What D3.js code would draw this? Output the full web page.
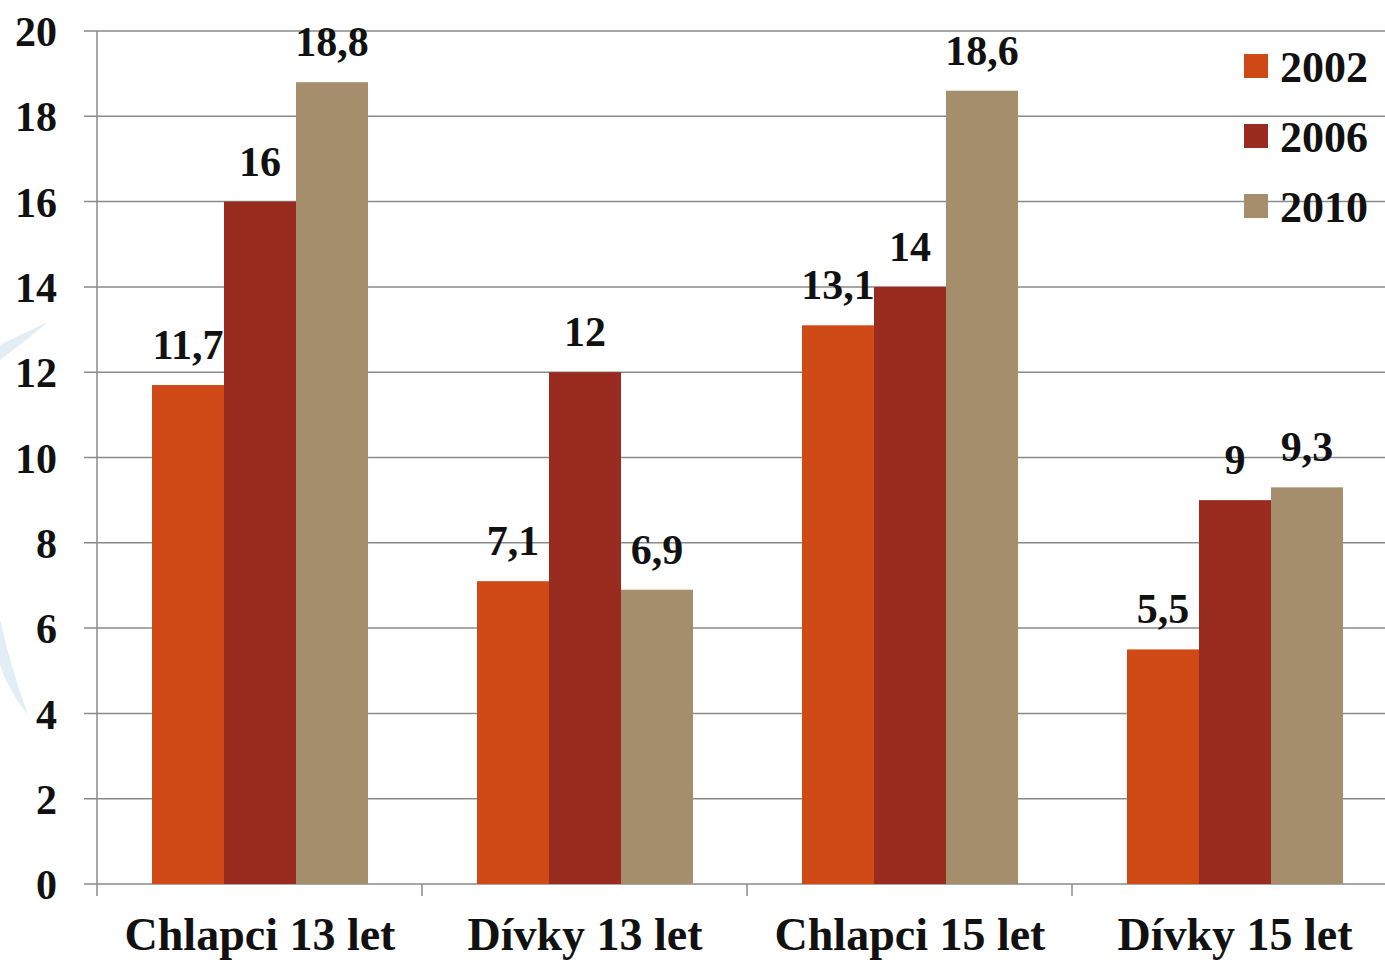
<!DOCTYPE html>
<html>
<head>
<meta charset="utf-8">
<script src="https://cdn.jsdelivr.net/npm/d3@7"></script>
<style>
  body { margin: 0; background: #fff; }
  text { font-family: "Liberation Serif", "DejaVu Serif", serif; font-weight: bold; fill: #111; }
</style>
</head>
<body>
<div id="chart"></div>
<script>
var categories = ["Chlapci 13 let", "Dívky 13 let", "Chlapci 15 let", "Dívky 15 let"];
var years = ["2002", "2006", "2010"];
var values2002 = [11.7, 7.1, 13.1, 5.5];
var values2006 = [16, 12, 14, 9];
var values2010 = [18.8, 6.9, 18.6, 9.3];
var yTicks = [0, 2, 4, 6, 8, 10, 12, 14, 16, 18, 20];
var colors = ["#D04A17", "#992B1F", "#A58E6B"];

var svgWidth = 1385;
var svgHeight = 963;

var svg = d3.select("#chart")
  .append("svg")
  .attr("width", svgWidth)
  .attr("height", svgHeight);

// faint watermark swoosh on the left
svg.append("path")
  .attr("d", "M0,345 Q20,335 48,322 Q20,345 0,360 Z")
  .attr("fill", "#e3edf5");
svg.append("path")
  .attr("d", "M0,620 Q10,665 28,715 Q8,690 0,665 Z")
  .attr("fill", "#e3edf5");

var x0 = d3.scaleBand()
  .domain(categories)
  .range([97, 1397]);

var x1 = d3.scaleBand()
  .domain(years)
  .range([55, 271]);

var y = d3.scaleLinear()
  .domain([0, 20])
  .range([884, 31]);

// gridlines
svg.append("g")
  .selectAll("line")
  .data(yTicks)
  .enter()
  .append("line")
  .attr("x1", 84)
  .attr("x2", svgWidth)
  .attr("y1", d => y(d))
  .attr("y2", d => y(d))
  .attr("stroke", "#8a8a8a")
  .attr("stroke-width", 1.5);

// y axis line
svg.append("line")
  .attr("x1", 97).attr("x2", 97)
  .attr("y1", y(20)).attr("y2", 896)
  .attr("stroke", "#8a8a8a")
  .attr("stroke-width", 1.5);

// category ticks
svg.append("g")
  .selectAll("line")
  .data(categories.slice(1))
  .enter()
  .append("line")
  .attr("x1", d => x0(d))
  .attr("x2", d => x0(d))
  .attr("y1", y(0))
  .attr("y2", 896)
  .attr("stroke", "#8a8a8a")
  .attr("stroke-width", 1.5);

// y tick labels
svg.append("g")
  .selectAll("text")
  .data(yTicks)
  .enter()
  .append("text")
  .attr("x", 57)
  .attr("y", d => y(d))
  .attr("dy", "0.36em")
  .attr("text-anchor", "end")
  .style("font-size", "42px")
  .text(d => d);

var series = [values2002, values2006, values2010];

var rows = [];
categories.forEach((c, i) => {
  years.forEach((yr, j) => {
    rows.push({cat: c, year: yr, value: series[j][i], color: colors[j]});
  });
});

svg.append("g")
  .selectAll("rect")
  .data(rows)
  .enter()
  .append("rect")
  .attr("x", d => x0(d.cat) + x1(d.year))
  .attr("y", d => y(d.value))
  .attr("width", x1.bandwidth())
  .attr("height", d => y(0) - y(d.value))
  .attr("fill", d => d.color);

// value labels
svg.append("g")
  .selectAll("text")
  .data(rows)
  .enter()
  .append("text")
  .attr("x", d => x0(d.cat) + x1(d.year) + x1.bandwidth() / 2)
  .attr("y", d => y(d.value) - 26)
  .attr("text-anchor", "middle")
  .style("font-size", "42px")
  .text(d => String(d.value).replace(".", ","));

// category labels
svg.append("g")
  .selectAll("text")
  .data(categories)
  .enter()
  .append("text")
  .attr("x", d => x0(d) + 163)
  .attr("y", 950)
  .attr("text-anchor", "middle")
  .style("font-size", "46px")
  .text(d => d);

// legend
var legend = svg.append("g")
  .selectAll("g")
  .data(years)
  .enter()
  .append("g")
  .attr("transform", (d, i) => `translate(1244, ${54 + i * 70})`);

legend.append("rect")
  .attr("width", 24)
  .attr("height", 24)
  .attr("fill", (d, i) => colors[i]);

legend.append("text")
  .attr("x", 36)
  .attr("y", 12)
  .attr("dy", "0.36em")
  .style("font-size", "44px")
  .text(d => d);
</script>
</body>
</html>
